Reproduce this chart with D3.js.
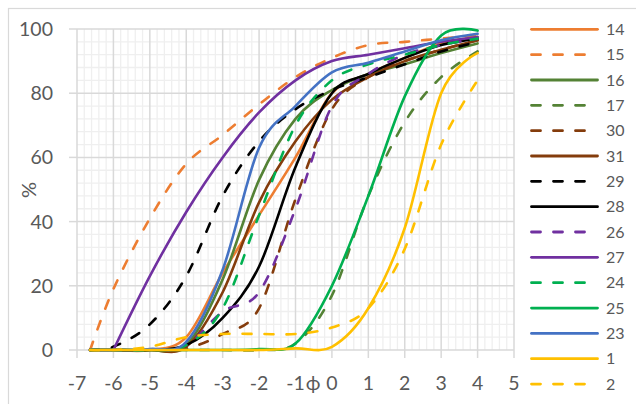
<!DOCTYPE html>
<html><head><meta charset="utf-8">
<script src="https://cdn.jsdelivr.net/npm/d3@7"></script>
<style>html,body{margin:0;padding:0;background:#fff;}svg{display:block;}</style>
</head><body>
<script>
const phi = [-6.64, -6, -5, -4, -3, -2, -1, 0, 1, 2, 3, 4];
const s14 = [0, 0, 0, 4, 24, 42, 60, 80, 86, 91, 95.5, 97.5];
const s15 = [0, 19, 41, 58, 67, 76.5, 85, 91, 95, 96, 97, 98];
const s16 = [0, 0, 0, 1.5, 22, 53, 72, 81, 86, 89, 92.5, 95.5];
const s17 = [0, 0, 0, 0, 0, 0, 2, 17, 48, 71, 85, 93];
const s30 = [0, 0, 0, 0.5, 5, 13, 47, 75, 85, 90, 93.5, 96.5];
const s31 = [0, 0, 0, 1, 18, 46, 65, 78, 85, 90, 93.5, 96.5];
const s29 = [0, 1, 8, 23, 48, 65, 75, 81, 85, 89, 93, 96];
const s28 = [0, 0, 0, 1.5, 10, 26, 57, 80, 86, 91, 95, 97];
const s26 = [0, 0, 0, 1.5, 12, 18, 44, 76, 86, 92, 95, 97];
const s27 = [null, 0, 23, 43, 60, 74, 84, 90, 92, 94, 96, 97.5];
const s24 = [0, 0, 0, 1.5, 13, 42, 70, 84, 89, 92, 95, 97];
const s25 = [0, 0, 0, 0, 0, 0.3, 2, 20, 48, 79, 98, 99.5];
const s23 = [0, 0, 0.3, 2.5, 25, 63, 76, 86.5, 89.5, 93, 96.5, 98.5];
const s1  = [0, 0, 0, 0, 0, 0, 0.5, 1, 13, 38, 80, 92.5];
const s2  = [0, 0, 1, 4, 5, 5, 5, 7, 13, 31.5, 64, 84];

const seriesNames = ["14","15","16","17","30","31","29","28","26","27","24","25","23","1","2"];
const seriesValues = [s14,s15,s16,s17,s30,s31,s29,s28,s26,s27,s24,s25,s23,s1,s2];
const seriesColors = ["#ED7D31","#ED7D31","#548235","#548235","#843C0C","#843C0C","#000000","#000000","#7030A0","#7030A0","#00B050","#00B050","#4472C4","#FFC000","#FFC000"];
const seriesDashed = [false,true,false,true,true,false,true,false,true,false,true,false,false,false,true];

const xTicks = [-7,-6,-5,-4,-3,-2,-1,0,1,2,3,4,5];
const yTicks = [0,20,40,60,80,100];

const W = 636, H = 404;
const svg = d3.select("body").append("svg").attr("width", W).attr("height", H);
const font = "Lato, 'Open Sans', sans-serif";
const txt = "#595959";

// chart border
svg.append("rect").attr("x", 8.5).attr("y", 8.5).attr("width", 700).attr("height", 500)
  .attr("fill", "none").attr("stroke", "#d9d9d9").attr("stroke-width", 1.2);

const x = d3.scaleLinear().domain([-7, 5]).range([77, 514]);
const y = d3.scaleLinear().domain([0, 100]).range([350, 29]);

const g = svg.append("g");
// minor grid
const minorX = d3.range(-7, 5.0001, 0.2).filter(v => Math.abs(v - Math.round(v)) > 1e-6);
const minorY = d3.range(0, 100.0001, 4).filter(v => v % 20 !== 0);
g.selectAll(".mx").data(minorX).join("line")
  .attr("x1", d => x(d)).attr("x2", d => x(d)).attr("y1", y(0)).attr("y2", y(100))
  .attr("stroke", "#efefef").attr("stroke-width", 1.3);
g.selectAll(".my").data(minorY).join("line")
  .attr("x1", x(-7)).attr("x2", x(5)).attr("y1", d => y(d)).attr("y2", d => y(d))
  .attr("stroke", "#efefef").attr("stroke-width", 1.3);
// major grid
g.selectAll(".Mx").data(xTicks).join("line")
  .attr("x1", d => x(d)).attr("x2", d => x(d)).attr("y1", y(0)).attr("y2", y(100) )
  .attr("stroke", "#d9d9d9").attr("stroke-width", 1.5);
g.selectAll(".My").data(yTicks).join("line")
  .attr("x1", x(-7)).attr("x2", x(5)).attr("y1", d => y(d)).attr("y2", d => y(d))
  .attr("stroke", "#d9d9d9").attr("stroke-width", 1.5);
// tick marks
g.selectAll(".tx").data(xTicks).join("line")
  .attr("x1", d => x(d)).attr("x2", d => x(d)).attr("y1", y(0)).attr("y2", y(0) + 8)
  .attr("stroke", "#d9d9d9").attr("stroke-width", 1.5);
g.selectAll(".ty").data(yTicks).join("line")
  .attr("x1", x(-7) - 8).attr("x2", x(-7)).attr("y1", d => y(d)).attr("y2", d => y(d))
  .attr("stroke", "#d9d9d9").attr("stroke-width", 1.5);

// tick labels
g.selectAll(".lx").data(xTicks).join("text")
  .attr("x", d => x(d)).attr("y", 390).attr("text-anchor", "middle")
  .attr("font-family", font).attr("font-size", 19.5).attr("fill", txt).text(d => d);
g.selectAll(".ly").data(yTicks).join("text")
  .attr("x", 53).attr("y", d => y(d)).attr("dy", "0.36em").attr("text-anchor", "end")
  .attr("font-family", font).attr("font-size", 19.5).attr("fill", txt).text(d => d);

// axis titles
svg.append("text").attr("x", 313).attr("y", 390).attr("text-anchor", "middle")
  .attr("font-family", font).attr("font-size", 20).attr("fill", txt).text("ϕ");
svg.append("text").attr("transform", "translate(36,190) rotate(-90)").attr("text-anchor", "middle")
  .attr("font-family", font).attr("font-size", 20).attr("fill", txt).text("%");

// lines
const line = d3.line().defined(d => d[1] != null)
  .x(d => x(d[0])).y(d => y(d[1])).curve(d3.curveCardinal.tension(0));
seriesValues.forEach((vals, i) => {
  const pts = phi.map((p, j) => [p, vals[j]]);
  svg.append("path").attr("d", line(pts.filter(d => d[1] != null)))
    .attr("fill", "none").attr("stroke", seriesColors[i]).attr("stroke-width", 2.6)
    .attr("stroke-linecap", "round").attr("stroke-linejoin", "round")
    .attr("stroke-dasharray", seriesDashed[i] ? "9,13" : null);
});

// legend
const lg = svg.append("g");
seriesNames.forEach((nm, i) => {
  const ly = 29.3 + i * 25.34;
  lg.append("line").attr("x1", 531.5).attr("x2", seriesDashed[i] ? 586 : 597.5)
    .attr("y1", ly).attr("y2", ly).attr("stroke", seriesColors[i]).attr("stroke-width", 2.8)
    .attr("stroke-linecap", "round").attr("stroke-dasharray", seriesDashed[i] ? "9,13" : null);
  lg.append("text").attr("x", 606).attr("y", ly).attr("dy", "0.36em")
    .attr("font-family", font).attr("font-size", 16).attr("fill", txt).text(nm);
});
</script>
</body></html>
